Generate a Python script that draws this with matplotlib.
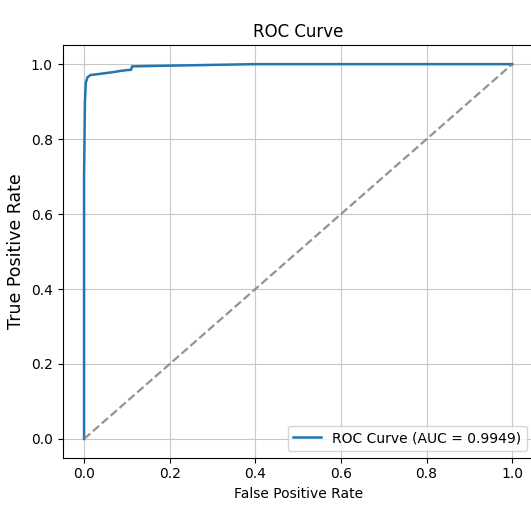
import numpy as np
import matplotlib
matplotlib.use("Agg")
import matplotlib.pyplot as plt

# roc points
fpr = [0.0, 0.0, 0.002, 0.004, 0.008, 0.015, 0.03, 0.05, 0.07, 0.085, 0.1, 0.11, 0.112, 0.2, 0.3, 0.4, 1.0]
tpr = [0.0, 0.70, 0.90, 0.95, 0.965, 0.971, 0.973, 0.976, 0.979, 0.982, 0.984, 0.985, 0.994, 0.996, 0.998, 1.0, 1.0]
auc_score = 0.9949

fig = plt.figure(figsize=(5.31, 5.16), dpi=100)
ax = fig.add_axes([0.118, 0.113, 0.887, 0.799])

ax.plot(fpr, tpr, color='#1f77b4', lw=1.8, label=f'ROC Curve (AUC = {auc_score:.4f})')
ax.plot([0, 1], [0, 1], color='gray', linestyle='--', lw=1.6, alpha=0.85)

ax.set_xlabel('False Positive Rate', fontsize=10)
ax.set_ylabel('True Positive Rate', fontsize=12.5)
ax.set_title('ROC Curve', fontsize=12)
ax.set_xticks([0.0, 0.2, 0.4, 0.6, 0.8, 1.0])
ax.set_yticks([0.0, 0.2, 0.4, 0.6, 0.8, 1.0])
ax.legend(loc='lower right', fontsize=10)
ax.grid(True, color='#c8c8c8')

plt.savefig('out.png', dpi=100)
